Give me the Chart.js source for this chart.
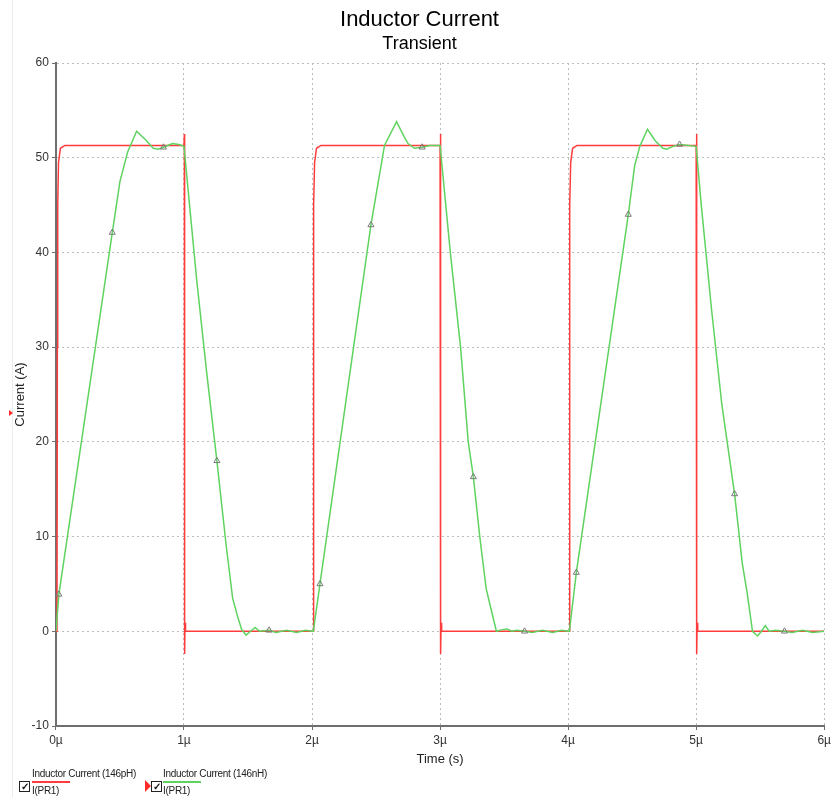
<!DOCTYPE html>
<html>
<head>
<meta charset="utf-8">
<script src="https://cdn.jsdelivr.net/npm/chart.js@4/dist/chart.umd.min.js"></script>
<style>
  html, body { margin: 0; padding: 0; background: #fff; }
  #wrap { position: relative; width: 831px; height: 797px; overflow: hidden; font-family: "Liberation Sans", Arial, sans-serif; }
  #plot { position: absolute; left: 0; top: 0; width: 834px; height: 797px; }
  #edge { position: absolute; left: 12px; top: 0; width: 1px; height: 797px; background: #ececec; }
  .cursor { position: absolute; width: 0; height: 0; border-style: solid; border-color: transparent transparent transparent #ff2a2a; }
  .item { position: absolute; top: 768px; font-size: 10px; color: #222; letter-spacing: -0.3px; line-height: 12px; }
  .item .swatch { height: 1.5px; width: 38px; margin: 1px 0 2px 0; }
  .box { position: absolute; width: 9px; height: 9px; border: 1px solid #222; font-size: 10px; line-height: 9px; text-align: center; top: 781px; color: #111; font-weight: bold; }
</style>
</head>
<body>
<div id="wrap">
  <div id="edge"></div>
  <div id="plot"><canvas id="chart"></canvas></div>
  <div class="cursor" style="left:9px;top:410px;border-width:3px 0 3px 4px;"></div>
  <div class="box" style="left:19px;">✓</div>
  <div class="item" style="left:32px;">Inductor Current (146pH)<div class="swatch" style="background:#ff3b3b"></div>I(PR1)</div>
  <div class="cursor" style="left:145px;top:780px;border-width:6px 0 6px 6px;"></div>
  <div class="box" style="left:151px;">✓</div>
  <div class="item" style="left:163px;">Inductor Current (146nH)<div class="swatch" style="background:#5fd35f"></div>I(PR1)</div>
</div>
<script>
// 146pH inductor current (red)
const redTime = [
  0, 0.008, 0.011, 0.014, 0.02, 0.035, 0.07, 1.0, 1.003, 1.005, 1.008, 1.012,
  2.0, 2.008, 2.011, 2.014, 2.02, 2.035, 2.07, 3.0, 3.003, 3.005, 3.008, 3.012,
  4.0, 4.008, 4.011, 4.014, 4.02, 4.035, 4.07, 5.0, 5.003, 5.005, 5.008, 5.012,
  6.0
];
const redCurrent = [
  0, 0, 30, 45, 49.5, 51, 51.3, 51.3, 52.5, -2.4, 0.9, 0,
  0, 0, 30, 45, 49.5, 51, 51.3, 51.3, 52.5, -2.4, 0.9, 0,
  0, 0, 30, 45, 49.5, 51, 51.3, 51.3, 52.5, -2.4, 0.9, 0,
  0
];

// 146nH inductor current (green)
const greenTime = [
  0, 0.023, 0.44, 0.5, 0.56, 0.63, 0.7, 0.76, 0.8, 0.84, 0.91, 0.96, 1.0,
  1.04, 1.1, 1.18, 1.257, 1.33, 1.38, 1.42, 1.45, 1.485, 1.52, 1.555, 1.59,
  1.665, 1.72, 1.8, 1.88, 1.95, 2.0,
  2.01, 2.062, 2.46, 2.566, 2.66, 2.72, 2.75, 2.8, 2.86, 2.92, 3.0,
  3.08, 3.16, 3.22, 3.26, 3.31, 3.36, 3.39, 3.44, 3.48, 3.52, 3.56, 3.6,
  3.66, 3.72, 3.8, 3.88, 3.95, 4.0,
  4.01, 4.064, 4.47, 4.52, 4.56, 4.62, 4.68, 4.74, 4.77, 4.82, 4.87, 4.94, 5.0,
  5.04, 5.12, 5.2, 5.3, 5.36, 5.4, 5.44, 5.48, 5.51, 5.54, 5.57, 5.62,
  5.69, 5.75, 5.83, 5.91, 6.0
];
const greenCurrent = [
  0, 3.9, 42.1, 47.5, 50.6, 52.8, 51.9, 51.0, 50.9, 51.1, 51.5, 51.4, 51.2,
  45.5, 37, 27, 18.0, 9, 3.5, 1.5, 0.2, -0.4, 0, 0.4, 0,
  0.1, -0.12, 0.12, -0.12, 0.1, 0,
  0, 5.0, 42.9, 51.3, 53.8, 52.2, 51.5, 51.0, 51.1, 51.3, 51.3,
  40, 30, 20, 16.3, 10, 4.5, 2.8, 0, 0.15, 0.25, 0, 0.1,
  0, -0.12, 0.12, -0.12, 0.1, 0,
  0, 6.2, 44.0, 49.2, 51.2, 53.0, 51.8, 51.0, 50.9, 51.2, 51.4, 51.3, 51.2,
  45, 34, 24, 14.5, 7.2, 3.9, 0, -0.5, 0, 0.6, 0, 0.1,
  0, -0.12, 0.12, -0.12, 0
];

// triangle markers on the green trace
const markerTime = [0.023, 0.44, 0.84, 1.257, 1.665, 2.062, 2.46, 2.86, 3.26, 3.66, 4.064, 4.47, 4.87, 5.3, 5.69];
const markerCurrent = [3.9, 42.1, 51.1, 18.0, 0.1, 5.0, 42.9, 51.1, 16.3, 0, 6.2, 44.0, 51.4, 14.5, 0];

const xTicks = [0, 1, 2, 3, 4, 5, 6];
const yTicks = [-10, 0, 10, 20, 30, 40, 50, 60];

function toPoints(xs, ys) {
  return xs.map((x, i) => ({ x, y: ys[i] }));
}

const axisFont = { family: '"Liberation Sans", Arial, sans-serif', size: 12 };
const titleFont = { family: '"Liberation Sans", Arial, sans-serif', size: 13 };

new Chart(document.getElementById('chart'), {
  type: 'scatter',
  data: {
    datasets: [
      {
        label: 'Inductor Current (146pH)',
        data: toPoints(redTime, redCurrent),
        showLine: true,
        borderColor: '#ff3b3b',
        borderWidth: 1.5,
        pointRadius: 0,
        tension: 0,
        order: 3
      },
      {
        label: 'Inductor Current (146nH)',
        data: toPoints(greenTime, greenCurrent),
        showLine: true,
        borderColor: '#5fd35f',
        borderWidth: 1.5,
        pointRadius: 0,
        tension: 0,
        order: 2
      },
      {
        label: 'markers',
        data: toPoints(markerTime, markerCurrent),
        showLine: false,
        pointStyle: 'triangle',
        pointRadius: 3.5,
        borderColor: '#7a7a7a',
        backgroundColor: 'rgba(0,0,0,0)',
        borderWidth: 1,
        order: 1
      }
    ]
  },
  options: {
    animation: false,
    responsive: true,
    maintainAspectRatio: false,
    layout: { padding: { left: 5, right: 0, top: 0, bottom: 26 } },
    plugins: {
      legend: { display: false },
      tooltip: { enabled: false },
      title: {
        display: true,
        text: 'Inductor Current',
        color: '#000',
        font: { family: '"Liberation Sans", Arial, sans-serif', size: 22, weight: 'normal' },
        padding: { top: 7, bottom: 0 }
      },
      subtitle: {
        display: true,
        text: 'Transient',
        color: '#000',
        font: { family: '"Liberation Sans", Arial, sans-serif', size: 18, weight: 'normal' },
        padding: { top: 0, bottom: 8 }
      }
    },
    scales: {
      x: {
        type: 'linear',
        min: 0,
        max: 6,
        afterBuildTicks: (axis) => { axis.ticks = xTicks.map((v) => ({ value: v })); },
        ticks: { color: '#333', font: axisFont, padding: 3, maxRotation: 0, callback: (v) => v + 'µ' },
        title: { display: true, text: 'Time (s)', color: '#222', font: titleFont, padding: { top: 1, bottom: 4 } },
        grid: { color: '#bdbdbd', lineWidth: 1, tickLength: 4, tickColor: '#6e6e6e' },
        border: { display: true, color: '#6e6e6e', width: 2, dash: [2, 3] }
      },
      y: {
        type: 'linear',
        min: -10,
        max: 60,
        afterBuildTicks: (axis) => { axis.ticks = yTicks.map((v) => ({ value: v })); },
        ticks: { color: '#333', font: axisFont, padding: 3 },
        title: { display: true, text: 'Current (A)', color: '#222', font: titleFont, padding: { top: 8, bottom: 0 } },
        grid: { color: '#bdbdbd', lineWidth: 1, tickLength: 4, tickColor: '#6e6e6e' },
        border: { display: true, color: '#6e6e6e', width: 2, dash: [2, 3] }
      }
    }
  }
});
</script>
</body>
</html>
